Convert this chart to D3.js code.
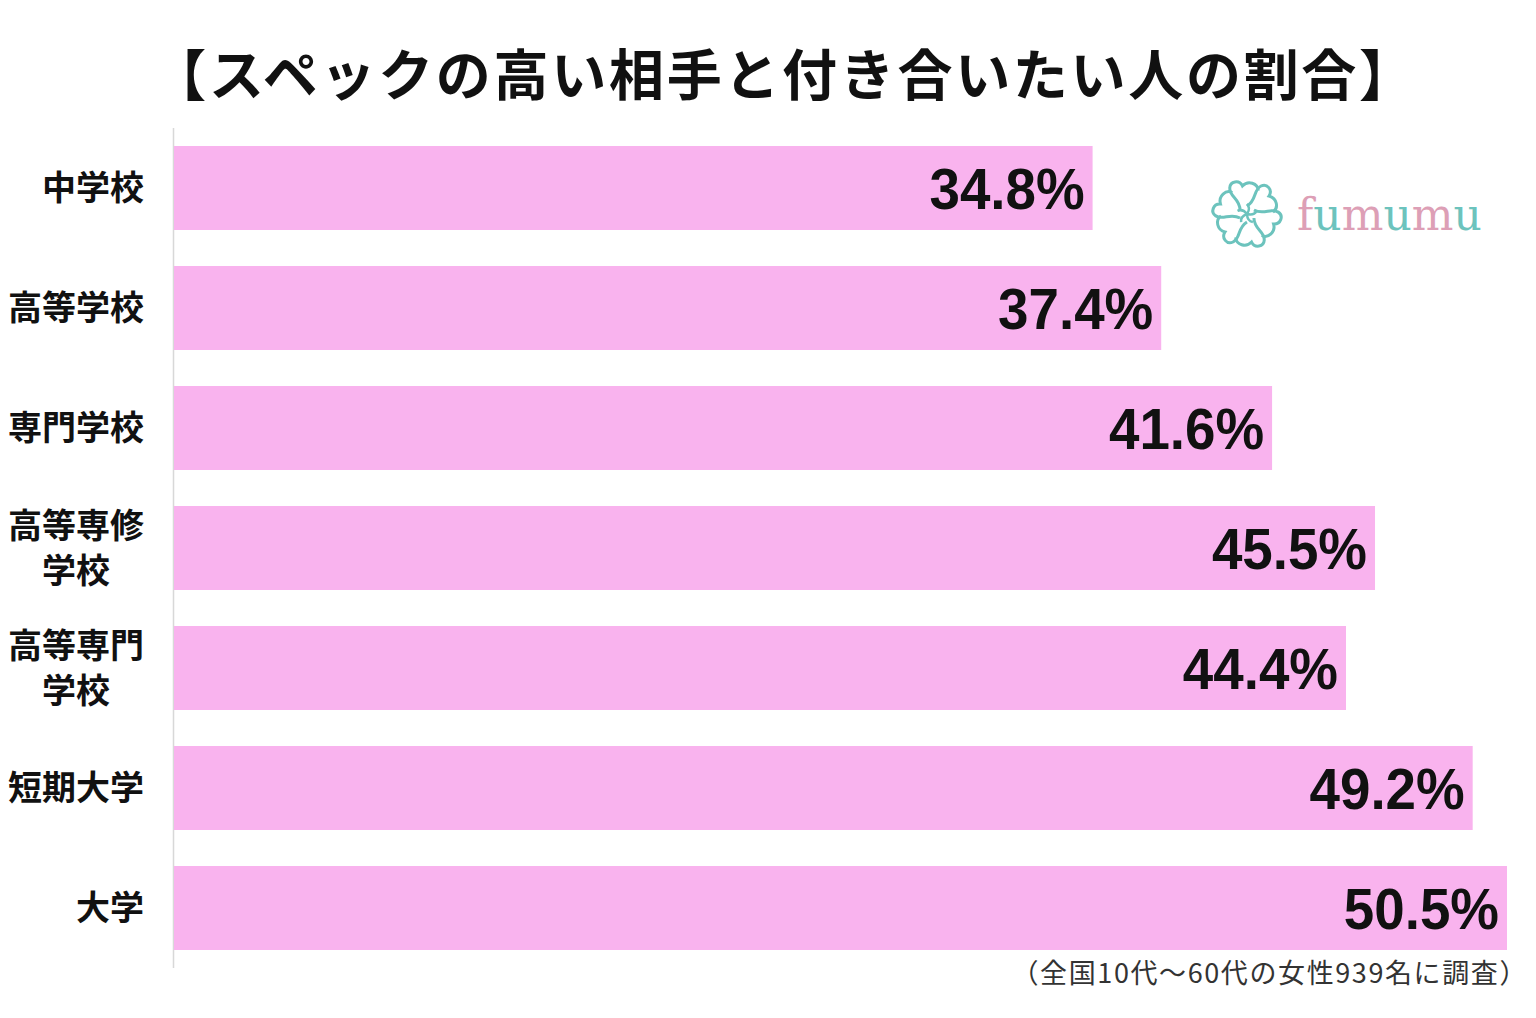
<!DOCTYPE html>
<html><head><meta charset="utf-8">
<script src="https://cdn.jsdelivr.net/npm/d3@7"></script>
<style>
html,body{margin:0;padding:0;background:#fff;}
svg{display:block;}
</style></head>
<body>
<svg id="chart" width="1536" height="1018"></svg>
<script>
const title = "【スペックの高い相手と付き合いたい人の割合】";
const categories = ["中学校", "高等学校", "専門学校", "高等専修学校", "高等専門学校", "短期大学", "大学"];
const labelLines = [["中学校"], ["高等学校"], ["専門学校"], ["高等専修", "学校"], ["高等専門", "学校"], ["短期大学"], ["大学"]];
const values = [34.8, 37.4, 41.6, 45.5, 44.4, 49.2, 50.5];
const footnote = "（全国10代～60代の女性939名に調査）";
const logoLetters = ["f", "u", "m", "u", "m", "u"];

const svg = d3.select("#chart");
const jp = "'Noto Sans CJK JP', 'Noto Sans CJK SC', sans-serif";

const x = d3.scaleLinear().domain([0, 50.5]).range([174, 1507]);
const y = d3.scaleBand().domain(categories).range([128, 968]).paddingInner(0.3).paddingOuter(0.15);

// title
svg.append("text")
  .attr("x", 784).attr("y", 95)
  .attr("text-anchor", "middle")
  .attr("font-family", jp).attr("font-weight", 700)
  .attr("font-size", 55).attr("letter-spacing", 2.7).attr("fill", "#111")
  .text(title);

// axis line
svg.append("line")
  .attr("x1", 173.5).attr("x2", 173.5)
  .attr("y1", 128).attr("y2", 968)
  .attr("stroke", "#d8d8d8").attr("stroke-width", 1.5);

// bars
svg.selectAll("rect.bar").data(categories).join("rect")
  .attr("class", "bar")
  .attr("x", x(0))
  .attr("y", d => y(d))
  .attr("width", (d, i) => x(values[i]) - x(0))
  .attr("height", y.bandwidth())
  .attr("fill", "#f9b3ee");

// value labels
svg.selectAll("text.val").data(categories).join("text")
  .attr("class", "val")
  .attr("transform", (d, i) => `translate(${x(values[i]) - 8},${y(d) + y.bandwidth() / 2 + 21}) scale(0.96,1)`)
  .attr("text-anchor", "end")
  .attr("font-family", "'Liberation Sans', Arial, sans-serif")
  .attr("font-weight", 700)
  .attr("font-size", 57)
  .attr("fill", "#111")
  .text((d, i) => values[i].toFixed(1) + "%");

// category labels
const cat = svg.selectAll("g.cat").data(categories).join("g")
  .attr("class", "cat")
  .attr("transform", d => `translate(144,${y(d) + y.bandwidth() / 2})`);
cat.each(function (d, i) {
  const lines = labelLines[i];
  const g = d3.select(this);
  lines.forEach((t, j) => {
    const dy = lines.length === 1 ? 12 : (j === 0 ? -10 : 35);
    g.append("text")
      .attr("x", lines.length > 1 && j === 1 ? -68 : 0)
      .attr("y", dy)
      .attr("text-anchor", lines.length > 1 && j === 1 ? "middle" : "end")
      .attr("font-family", jp).attr("font-weight", 700)
      .attr("font-size", 34).attr("fill", "#111")
      .text(t);
  });
});

// footnote
svg.append("text")
  .attr("x", 1528).attr("y", 983)
  .attr("text-anchor", "end")
  .attr("font-family", jp).attr("font-weight", 400)
  .attr("font-size", 27).attr("letter-spacing", 1.6).attr("fill", "#333")
  .text(footnote);

// logo
const logo = svg.append("g").attr("transform", "translate(1247,214)");
const teal = "#6cc3bd", pink = "#dd9fb6";
for (let k = 0; k < 6; k++) {
  logo.append("path")
    .attr("transform", `rotate(${k * 60})`)
    .attr("d", "M0,-8 C10,-14 6,-24 14,-28 C20,-31 26,-24 22,-18 C30,-16 32,-6 26,-2")
    .attr("fill", "none").attr("stroke", teal).attr("stroke-width", 3);
}
for (let k = 0; k < 5; k++) {
  logo.append("path")
    .attr("transform", `rotate(${k * 72})`)
    .attr("d", "M0,0 Q4,-6 0,-10")
    .attr("fill", "none").attr("stroke", teal).attr("stroke-width", 2.5);
}
const lt = svg.append("text")
  .attr("x", 1297).attr("y", 230)
  .attr("font-family", "'DejaVu Serif', 'Liberation Serif', serif")
  .attr("font-size", 44);
lt.selectAll("tspan").data(logoLetters).join("tspan")
  .attr("fill", (d, i) => i % 2 === 0 ? pink : teal)
  .text(d => d);
</script>
</body></html>
